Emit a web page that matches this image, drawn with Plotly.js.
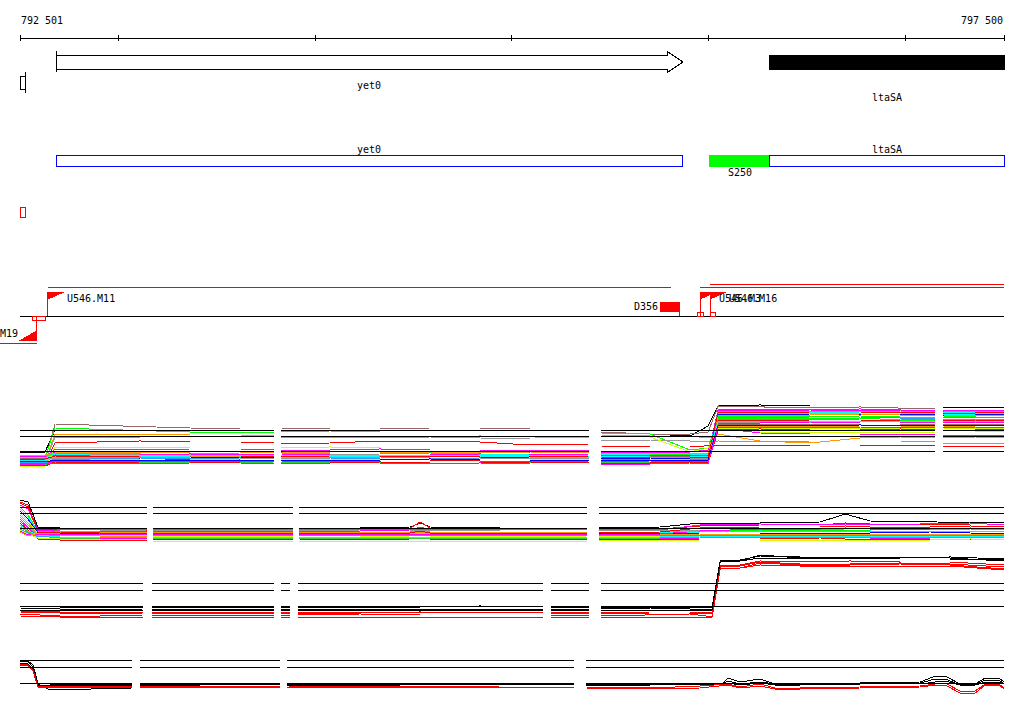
<!DOCTYPE html>
<html><head><meta charset="utf-8">
<script src="https://cdn.plot.ly/plotly-3.0.1.min.js"></script>
<style>
html,body{margin:0;padding:0;background:#fff;overflow:hidden;}
#chart{width:1024px;height:714px;}
.js-line{shape-rendering:crispEdges;}
.shapelayer path{shape-rendering:crispEdges;}
</style></head><body><div id="chart"></div>
<script>
// ---------------- DATA ----------------
const viewStart = 792501, viewEnd = 797500;
const rulerTicks = [792501, 793000, 794000, 795000, 796000, 797000, 797500];
const rulerLabels = ['792 501', '797 500'];

// gene track (arrows / boxes)
const geneNames = ['yet0', 'ltaSA'];
const geneStart = [792684, 796311];
const geneEnd = [795869, 797500];
const geneComplete = [true, false];
const partialStart = [792501], partialEnd = [792531];

// annotation track
const featNames = ['yet0', 'S250', 'ltaSA'];
const featStart = [792684, 796006, 796311];
const featEnd = [795869, 796311, 797500];
const featKind = ['gene', 'site', 'gene'];
const markStart = [792501], markEnd = [792531];

// transcription start sites
const tssNames = ['M19', 'U546.M11', 'U546.M3', 'U546.M16'];
const tssPos = [792587, 792643, 795956, 796007];
const tssStrand = ['-', '+', '+', '+'];
const tssTo = [792399, 795809, 797500, 797500];
const probeStart = [792562, null, 795941, 796007];
const probeEnd = [792628, null, 795971, 796032];
const delNames = ['D356'], delStart = [795753], delEnd = [795850];

// ---- signal track A ----
const N = null;
const trackAPos = [792501,792628,792679,792857,793111,793365,793619,793792,793807,793827,794076,794330,794584,794838,795092,795392,795423,795453,795702,795905,795997,796048,796261,796515,796769,796973,797150,797171,797191,797354,797500];
const trackARefs = [42, 36, 21];
const trackAColors = ['#000000','#996666','#00ff00','#ff9900','#999999','#ff0000','#ccff00','#ff00ff','#ff00ff','#00ffff','#0000ff','#00ff00','#ff0000','#999999','#996666','#ff9900','#ccff00','#ff00ff','#00ffff','#3399ff','#33cc33','#ff0000','#ff00ff','#999999','#00ffff','#0000ff','#ff9900','#ff00ff','#ff0000'];
const trackA = [
 [20,20,42,42,42,41,41,41,N,42,42,42,42,41,41,41,N,39,38,36,46,66,67,66,66,66,66,N,65,65,65],
 [12,12,48,47,45,44,43,43,N,44,43,43,44,44,43,43,N,40,38,38,40,66,65,64,65,64,63,N,62,61,61],
 [14,14,44,43,41,40,40,40,N,40,41,40,40,40,40,40,N,39,38,22,24,54,54,53,54,52,52,N,53,52,52],
 [11,10,38,38,38,37,37,36,N,36,36,35,35,36,35,34,N,37,36,36,34,38,31,29,34,35,34,N,35,35,34],
 [10,10,35,35,34,34,34,34,N,35,35,34,35,34,33,33,N,32,32,31,30,31,30,31,31,31,30,N,29,29,29],
 [8,8,29,30,31,30,30,29,N,28,29,31,31,30,27,28,N,26,25,25,26,27,27,26,26,27,27,N,26,26,26],
 [6,6,25,25,25,24,24,24,N,24,25,24,24,24,24,24,N,36,35,20,24,46,40,40,40,40,40,N,42,41,41],
 [14,14,23,23,22,23,23,22,N,22,22,23,22,22,22,22,N,20,20,20,22,44,39,38,38,38,38,N,37,37,37],
 [15,14,20,20,19,20,20,19,N,19,20,20,19,20,19,19,N,19,18,18,19,62,61,62,61,62,61,N,60,61,60],
 [13,12,17,17,18,17,17,16,N,17,16,17,17,17,16,17,N,16,17,17,17,60,60,59,60,60,59,N,59,60,59],
 [10,10,14,14,14,15,14,14,N,14,15,14,14,14,15,14,N,14,14,13,14,58,57,58,57,58,58,N,57,57,58],
 [16,16,19,19,18,18,19,19,N,19,18,18,19,18,18,18,N,18,18,18,18,56,56,55,56,55,55,N,56,55,55],
 [9,9,12,12,11,13,12,12,N,12,11,12,12,11,11,12,N,12,11,11,12,52,51,52,52,51,51,N,52,52,51],
 [15,15,18,18,17,17,18,18,N,17,17,18,18,17,17,17,N,17,16,16,17,50,50,49,50,50,49,N,50,49,50],
 [14,13,16,16,16,15,16,16,N,16,16,15,15,16,16,16,N,16,16,15,16,48,48,48,47,47,48,N,47,48,48],
 [12,12,15,15,15,16,15,15,N,15,15,15,16,15,15,15,N,15,15,15,15,46,46,45,46,46,45,N,46,45,45],
 [11,11,13,13,12,12,13,13,N,13,13,13,12,13,13,12,N,13,13,13,13,44,44,44,43,44,44,N,44,43,44],
 [8,8,11,11,11,11,10,11,N,11,10,11,11,11,10,11,N,10,11,10,11,63,63,62,63,62,62,N,62,62,62],
 [12,11,15,16,16,15,15,16,N,16,16,16,15,15,16,15,N,15,16,16,15,59,59,58,59,59,58,N,58,58,59],
 [10,9,13,13,14,13,14,13,N,13,14,13,13,14,13,13,N,13,12,12,13,55,54,55,55,54,54,N,54,55,54],
 [7,7,10,10,10,9,10,10,N,10,10,9,10,10,10,10,N,10,10,10,10,53,53,52,53,53,52,N,52,53,53],
 [7,6,10,9,10,10,9,9,N,9,9,10,9,9,10,9,N,9,9,10,9,42,43,42,42,43,42,N,42,42,43],
 [16,15,17,17,17,18,17,17,N,18,17,17,17,18,17,18,N,17,17,17,17,49,49,50,49,49,50,N,49,50,49],
 [13,13,14,14,15,14,14,14,N,14,14,15,14,14,14,14,N,14,15,14,14,61,61,61,60,61,60,N,61,60,61],
 [15,14,18,17,17,17,17,17,N,17,17,17,17,17,18,18,N,18,17,17,18,51,51,51,50,51,51,N,50,51,51],
 [11,10,12,12,12,12,12,12,N,12,12,12,13,12,12,12,N,12,12,12,12,47,47,46,47,46,47,N,46,47,47],
 [17,17,19,20,20,19,19,20,N,20,19,19,20,19,20,19,N,19,19,19,19,57,57,57,58,57,57,N,57,56,57],
 [9,8,9,9,8,9,9,8,N,8,9,9,8,9,8,8,N,8,8,9,9,45,45,45,45,44,45,N,45,45,44],
 [13,13,16,15,16,16,16,15,N,15,16,16,16,15,15,16,N,15,14,14,15,60,59,60,60,59,60,N,59,59,60]
];

// ---- signal track B ----
const trackBPos = [792501,792542,792592,792704,792908,793146,793162,793177,793517,793888,793903,793919,794229,794483,794534,794584,794940,795382,795413,795443,795753,795956,796261,796566,796693,796820,797125,797328,797500];
const trackBRefs = [40, 34, 19];
const trackBColors = ['#000000','#ff0000','#ff00ff','#00ff00','#00ffff','#0000ff','#ccff00','#ff9900','#999999','#996666','#ff00ff','#ff0000','#00ffff','#33cc33','#3399ff','#ccff00','#ff00ff','#ff9900','#ff0000'];
const trackB = [
 [47,45,20,19,19,19,N,19,19,19,N,19,19,20,24,20,19,19,N,19,20,24,24,25,33,26,25,25,24],
 [44,40,18,18,17,17,N,17,17,17,N,17,18,19,25,19,18,17,N,17,18,21,22,22,24,23,22,22,22],
 [42,38,17,16,16,16,N,16,16,16,N,16,16,17,20,17,16,16,N,16,17,22,23,22,23,22,23,24,22],
 [40,32,16,15,15,15,N,15,15,15,N,15,15,15,16,15,15,15,N,15,15,17,17,17,17,17,18,18,17],
 [38,30,15,14,14,14,N,14,14,14,N,14,14,14,14,14,14,14,N,14,14,15,16,15,15,16,15,16,16],
 [36,28,14,13,14,13,N,13,13,13,N,13,14,13,13,13,13,13,N,13,14,14,14,14,14,14,15,14,14],
 [34,26,13,12,12,11,N,11,11,10,N,10,10,11,11,11,10,11,N,11,11,12,12,12,12,12,12,13,12],
 [32,24,12,12,11,11,N,12,12,11,N,11,12,12,12,12,11,12,N,12,12,13,13,13,13,13,13,13,13],
 [30,22,11,16,16,17,N,17,17,16,N,16,17,17,17,17,16,16,N,16,17,17,17,18,18,18,17,17,17],
 [28,20,10,18,18,18,N,18,18,18,N,18,18,18,18,18,18,18,N,18,18,19,19,19,19,19,19,19,19],
 [26,19,9,9,9,8,N,8,8,9,N,9,9,8,9,9,8,8,N,8,9,9,9,10,10,9,9,10,9],
 [24,17,8,7,7,7,N,8,8,8,N,8,7,8,9,8,8,7,N,7,8,8,8,9,8,8,8,8,8],
 [22,16,12,10,10,10,N,10,10,10,N,10,10,10,10,10,10,10,N,10,10,11,11,11,11,11,11,11,11],
 [20,15,11,9,9,10,N,9,9,9,N,9,9,9,9,9,9,9,N,9,9,10,10,10,10,10,10,10,10],
 [18,14,10,12,13,12,N,12,12,12,N,12,12,12,12,12,12,12,N,12,12,12,12,12,12,12,12,12,12],
 [17,13,9,8,8,8,N,6,6,6,N,6,6,6,6,6,6,6,N,6,7,7,7,7,7,7,7,8,7],
 [16,12,13,13,13,13,N,13,13,13,N,13,13,13,13,13,13,13,N,13,13,16,18,18,19,18,18,19,18],
 [15,11,14,14,15,15,N,15,15,15,N,15,15,15,15,15,15,15,N,15,15,16,16,16,16,16,16,16,16],
 [45,42,15,15,14,14,N,14,14,14,N,14,14,14,16,14,14,14,N,14,15,19,20,20,21,20,20,21,20]
];

// ---- signal track C ----
const trackCPos = [792501,792704,792908,793126,793146,793172,793416,793792,793807,793827,793873,793893,793914,794229,794534,794838,795159,795179,795199,795392,795423,795453,795702,795905,795987,796017,796058,796160,796261,796464,796718,796973,797227,797500];
const trackCRefs = [39, 32, 16];
const trackCColors = ['#ff0000','#ff0000','#ff0000','#ff0000','#000000','#000000','#000000'];
const trackC = [
 [10,9,8,9,N,9,9,9,N,9,9,N,9,9,10,9,9,N,9,9,N,8,9,9,8,8,55,56,60,58,58,59,58,55],
 [8,6,6,7,N,7,7,7,N,7,7,N,7,8,7,7,7,N,7,7,N,6,7,8,6,6,54,54,59,57,57,58,57,53],
 [6,5,5,5,N,5,5,5,N,5,5,N,5,5,5,5,5,N,5,5,N,5,5,5,5,5,53,54,57,56,56,56,56,52],
 [11,10,10,10,N,10,10,10,N,10,10,N,10,10,10,10,10,N,10,10,N,9,10,10,9,9,57,57,61,60,61,60,60,57],
 [16,15,15,15,N,15,15,15,N,15,15,N,15,15,15,16,15,N,15,15,N,15,15,15,15,15,61,61,67,64,64,64,65,63],
 [14,13,12,13,N,13,13,13,N,13,13,N,13,13,13,13,13,N,13,13,N,14,14,13,13,13,60,61,64,64,64,63,63,62],
 [12,12,12,12,N,12,12,12,N,12,12,N,12,12,12,12,12,N,12,12,N,12,12,12,12,12,61,62,66,65,65,65,64,61]
];

// ---- signal track D ----
const trackDPos = [792501,792542,792567,792592,792653,792806,793070,793090,793111,793416,793822,793837,793858,794432,794940,795316,795347,795377,795702,795956,796068,796099,796160,796261,796337,796464,796769,797074,797150,797201,797277,797354,797404,797481,797500];
const trackDRefs = [37, 30, 14];
const trackDColors = ['#000000','#000000','#000000','#ff0000','#ff0000'];
const trackD = [
 [36,35,30,13,7,8,9,N,12,12,13,N,13,13,12,13,N,12,12,13,13,19,15,18,13,13,14,15,21,21,13,13,19,18,15],
 [34,33,28,12,12,12,12,N,13,13,12,N,12,12,13,12,N,13,13,12,13,16,13,15,13,13,13,14,18,18,12,12,17,16,13],
 [37,36,32,14,13,13,13,N,14,14,13,N,14,13,14,14,N,13,13,14,14,14,12,14,12,12,13,13,15,16,12,12,15,15,13],
 [33,32,27,11,11,11,11,N,11,11,11,N,11,10,11,11,N,10,9,11,12,13,10,13,9,9,10,11,13,14,6,6,13,12,9],
 [32,31,26,10,10,10,10,N,10,10,10,N,10,10,10,10,N,9,8,9,11,12,9,11,8,8,9,10,12,12,4,4,12,11,8]
];

// ---------------- LAYOUT / DRAWING ----------------
const W = 1024, H = 714, PL = 20, PR = 1004;
const FONT = 'DejaVu Sans Mono, monospace';
const bpPerPx = (viewEnd - viewStart) / (PR - PL);
const px = n => n * bpPerPx;
const xRange = [viewStart - PL * bpPerPx, viewEnd + (W - PR) * bpPerPx];
const shapes = [], ann = [];
function seg(x0, y0, x1, y1, c) { shapes.push({type:'line', xref:'x', yref:'y', x0, y0, x1, y1, line:{color:c||'#000', width:1}}); }
function box(x0, y0, x1, y1, c, f) { shapes.push({type:'rect', xref:'x', yref:'y', x0, y0, x1, y1, line:{color:c, width:1}, fillcolor:f||'rgba(0,0,0,0)'}); }
function poly(pts, c, f) { shapes.push({type:'path', xref:'x', yref:'y', path:'M' + pts.map(p => p[0] + ',' + p[1]).join('L') + 'Z', line:{color:c, width:1}, fillcolor:f||'rgba(0,0,0,0)'}); }
function label(x, y, t, a) { ann.push({xref:'x', yref:'y', x, y, text:t, showarrow:false, xanchor:a||'center', yanchor:'middle', borderpad:0, font:{family:FONT, size:10, color:'#000'}}); }

// ruler
seg(viewStart, 38, viewEnd, 38);
rulerTicks.forEach(t => seg(t, 35, t, 41));
label(viewStart, 20, rulerLabels[0], 'left');
label(viewEnd, 20, rulerLabels[1], 'right');

// genes
const geneLabelRow = [85, 97];
geneNames.forEach((g, i) => {
  const s = geneStart[i], e = geneEnd[i];
  if (geneComplete[i]) {
    const hb = e - px(15);
    poly([[s,55],[hb,55],[hb,52],[e,62],[hb,72],[hb,69],[s,69]], '#000');
    seg(s, 51, s, 72);
  } else {
    box(s, 55, e, 69, '#000', '#000');
  }
  label((s + e) / 2, geneLabelRow[i], g);
});
partialStart.forEach((s, i) => { box(s, 76, partialEnd[i], 89, '#000'); seg(partialEnd[i], 72, partialEnd[i], 93); });

// annotation features
featNames.forEach((f, i) => {
  const s = featStart[i], e = featEnd[i];
  if (featKind[i] === 'gene') { box(s, 155, e, 166, '#0000ff', '#ffffff'); label((s + e) / 2, 149, f); }
  else { box(s, 155, e, 166, '#00ff00', '#00ff00'); label((s + e) / 2, 172, f); }
});
markStart.forEach((s, i) => box(s, 207, markEnd[i], 217, '#ff0000'));

// TSS track
seg(viewStart, 316, viewEnd, 316, '#000');
let lastEnd = -Infinity, row = 0;
tssNames.forEach((n, i) => {
  const p = tssPos[i];
  if (tssStrand[i] === '+') {
    row = (p < lastEnd) ? row + 1 : 0; lastEnd = Math.max(lastEnd, tssTo[i]);
    const ly = 287 - 3 * row;
    seg(p, ly, tssTo[i], ly, '#ff0000');
    seg(p, 316, p, 292, '#ff0000');
    poly([[p,292],[p + px(16),292],[p,299]], '#ff0000', '#ff0000');
    label(p + px(18), 298, n, 'left');
    if (probeStart[i] !== null) box(probeStart[i], 312, probeEnd[i], 316, '#ff0000');
  } else {
    seg(tssTo[i], 343, p, 343, '#ff0000');
    seg(p, 316, p, 340, '#ff0000');
    poly([[p,340],[p - px(16),340],[p,331]], '#ff0000', '#ff0000');
    label(p - px(18), 333, n, 'right');
    if (probeStart[i] !== null) box(probeStart[i], 316, probeEnd[i], 320, '#ff0000');
  }
});
delNames.forEach((d, i) => {
  box(delStart[i], 302, delEnd[i], 311, '#ff0000', '#ff0000');
  seg(delEnd[i], 311, delEnd[i], 316, '#ff0000');
  label(delStart[i] - px(1), 306, d, 'right');
});

// signal tracks
const traces = [];
function addTrack(xs, series, colors, refs, yax) {
  series.forEach((ys, i) => traces.push({type:'scatter', mode:'lines', x:xs, y:ys, yaxis:yax, connectgaps:false, hoverinfo:'skip', line:{color:colors[i], width:1}}));
  refs.forEach(v => traces.push({type:'scatter', mode:'lines', x:xs, y:series[0].map(s => s === null ? null : v), yaxis:yax, connectgaps:false, hoverinfo:'skip', line:{color:'#000', width:1}}));
}
addTrack(trackAPos, trackA, trackAColors, trackARefs, 'y2');
addTrack(trackBPos, trackB, trackBColors, trackBRefs, 'y3');
addTrack(trackCPos, trackC, trackCColors, trackCRefs, 'y4');
addTrack(trackDPos, trackD, trackDColors, trackDRefs, 'y5');

const dom = (top, bot) => [(H - bot) / H, (H - top) / H];
const hid = {visible:false, fixedrange:true, anchor:'x'};
const layout = {
  width: W, height: H, margin:{l:0, r:0, t:0, b:0, pad:0},
  paper_bgcolor:'#ffffff', plot_bgcolor:'rgba(0,0,0,0)', showlegend:false,
  xaxis:{range:xRange, visible:false, fixedrange:true},
  yaxis:Object.assign({range:[H, 0], domain:[0, 1]}, hid),
  yaxis2:Object.assign({range:[0, 75], domain:dom(397, 472)}, hid),
  yaxis3:Object.assign({range:[0, 50], domain:dom(497, 547)}, hid),
  yaxis4:Object.assign({range:[0, 70], domain:dom(552, 622)}, hid),
  yaxis5:Object.assign({range:[0, 45], domain:dom(652, 697)}, hid),
  shapes, annotations: ann
};
// invisible anchor trace for the main axis
traces.unshift({type:'scatter', mode:'lines', x:[viewStart], y:[0], yaxis:'y', hoverinfo:'skip', line:{width:0}});
Plotly.newPlot('chart', traces, layout, {staticPlot:true, displayModeBar:false});
</script></body></html>
